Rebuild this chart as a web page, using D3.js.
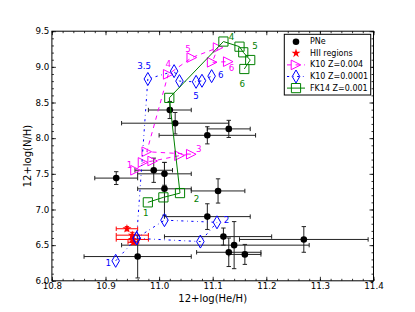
<!DOCTYPE html>
<html>
<head>
<meta charset="utf-8">
<script src="https://cdn.jsdelivr.net/npm/d3@7"></script>
<style>
  body { margin: 0; background: #fff; }
  svg { display: block; font-family: "DejaVu Sans", sans-serif; }
</style>
</head>
<body>
<div id="chart"></div>
<script>
// PNe (black dots, error bars)
const pneX   = [11.02, 11.03, 11.13, 11.09, 10.92, 10.99, 11.01, 11.01, 11.11, 11.09, 11.12, 11.14, 11.27, 11.13, 11.16, 10.96];
const pneY   = [8.395, 8.21, 8.13, 8.04, 7.44, 7.55, 7.50, 7.29, 7.26, 6.90, 6.62, 6.50, 6.58, 6.40, 6.37, 6.34];
const pneXlo = [0.04, 0.10, 0.04, 0.09, 0.04, 0.035, 0.05, 0.05, 0.05, 0.08, 0.11, 0.21, 0.12, 0.06, 0.03, 0.10];
const pneXhi = [0.04, 0.10, 0.04, 0.09, 0.04, 0.035, 0.05, 0.05, 0.05, 0.08, 0.09, 0.14, 0.12, 0.06, 0.03, 0.10];
const pneYe  = [0.12, 0.15, 0.12, 0.12, 0.09, 0.17, 0.16, 0.37, 0.17, 0.18, 0.12, 0.33, 0.18, 0.20, 0.14, 0.30];

// HII regions (red stars)
const hiiX  = [10.94, 10.95, 10.95, 10.952];
const hiiY  = [6.73, 6.64, 6.58, 6.54];
const hiiXe = [0.02, 0.03, 0.03, 0.01];
const hiiYe = [0.03, 0.04, 0.04, 0.03];

// K10 Z=0.004 (magenta)
const k4X = [10.956, 10.970, 10.988, 11.038, 11.060, 10.977, 11.017, 11.061, 11.110, 11.099, 11.129];
const k4Y = [7.55, 7.66, 7.68, 7.755, 7.775, 7.81, 8.895, 9.13, 9.27, 9.064, 9.073];
const k4Lab  = ["1", "3", "4", "5", "6"];
const k4LabX = [10.945, 11.074, 11.017, 11.054, 11.135];
const k4LabY = [7.62, 7.85, 9.036, 9.246, 8.99];

// K10 Z=0.0001 (blue)
const k1X = [10.919, 10.958, 11.010, 11.108, 11.077, 10.958, 10.979, 11.028, 11.038, 11.069, 11.080, 11.098];
const k1Y = [6.28, 6.60, 6.85, 6.82, 6.55, 6.595, 8.83, 8.94, 8.80, 8.79, 8.805, 8.87];
const k1Lab  = ["1", "2", "3.5", "5", "6"];
const k1LabX = [10.905, 11.126, 10.972, 11.069, 11.115];
const k1LabY = [6.245, 6.853, 9.012, 8.591, 8.886];

// FK14 Z=0.001 (green)
const fkX = [10.979, 11.008, 11.039, 11.019, 11.120, 11.150, 11.157, 11.170, 11.159];
const fkY = [7.10, 7.17, 7.23, 8.565, 9.355, 9.283, 9.204, 9.096, 8.97];
const fkLab  = ["1", "2", "4", "5", "6"];
const fkLabX = [10.975, 11.070, 11.135, 11.179, 11.155];
const fkLabY = [6.955, 7.143, 9.423, 9.297, 8.755];

const xMajor = [10.8, 10.9, 11.0, 11.1, 11.2, 11.3, 11.4];
const yMajor = [6.0, 6.5, 7.0, 7.5, 8.0, 8.5, 9.0, 9.5];

const width = 415, height = 312;
const pL = 51.9, pR = 373.5, pT = 31.2, pB = 280.8;

const svg = d3.select("#chart").append("svg")
  .attr("width", width)
  .attr("height", height);

const x = d3.scaleLinear().domain([10.8, 11.4]).range([pL, pR]);
const y = d3.scaleLinear().domain([6.0, 9.5]).range([pB, pT]);

const xMinor = d3.range(0, 31).map(i => 10.8 + i * 0.02);
const yMinor = d3.range(0, 36).map(i => 6.0 + i * 0.1);

// axes, ticks pointing inwards on all four sides
function drawAxis(axis, tx, ty, labels) {
  const g = svg.append("g").attr("transform", `translate(${tx},${ty})`).call(axis);
  g.select(".domain").remove();
  g.selectAll("line").attr("stroke", "#000").attr("stroke-width", 0.8);
  g.selectAll("text").attr("font-size", 8.7).attr("fill", "#000")
    .attr("font-family", "DejaVu Sans");
  if (!labels) g.selectAll("text").remove();
  return g;
}
const fmt = d3.format(".1f");
drawAxis(d3.axisBottom(x).tickValues(xMajor).tickSize(-4).tickPadding(2.5).tickFormat(fmt), 0, pB, true);
drawAxis(d3.axisBottom(x).tickValues(xMinor).tickSize(-2), 0, pB, false);
drawAxis(d3.axisTop(x).tickValues(xMajor).tickSize(-4), 0, pT, false);
drawAxis(d3.axisTop(x).tickValues(xMinor).tickSize(-2), 0, pT, false);
drawAxis(d3.axisLeft(y).tickValues(yMajor).tickSize(-4).tickPadding(2.5).tickFormat(fmt), pL, 0, true);
drawAxis(d3.axisLeft(y).tickValues(yMinor).tickSize(-2), pL, 0, false);
drawAxis(d3.axisRight(y).tickValues(yMajor).tickSize(-4), pR, 0, false);
drawAxis(d3.axisRight(y).tickValues(yMinor).tickSize(-2), pR, 0, false);

svg.append("rect")
  .attr("x", pL).attr("y", pT)
  .attr("width", pR - pL).attr("height", pB - pT)
  .attr("fill", "none").attr("stroke", "#000").attr("stroke-width", 1);

svg.append("text")
  .attr("x", (pL + pR) / 2).attr("y", 302)
  .attr("text-anchor", "middle").attr("font-size", 10)
  .text("12+log(He/H)");
svg.append("text")
  .attr("transform", `translate(30.5,${(pT + pB) / 2}) rotate(-90)`)
  .attr("text-anchor", "middle").attr("font-size", 10)
  .text("12+log(N/H)");

// marker shapes
const shapes = {
  circle: r => `M${r},0A${r},${r} 0 1,1 ${-r},0A${r},${r} 0 1,1 ${r},0Z`,
  tri: r => `M${r},0L${-r},${-r}L${-r},${r}Z`,
  diamond: r => `M0,${-r}L${r * 0.58},0L0,${r}L${-r * 0.58},0Z`,
  square: r => `M${-r},${-r}H${r}V${r}H${-r}Z`,
  star: r => d3.symbol(d3.symbolStar, r * r * 3.2)()
};

// error bars
function errorBars(xs, ys, xlo, xhi, ye, color) {
  const g = svg.append("g").attr("stroke", color).attr("stroke-width", 1).attr("fill", "none");
  const cap = 2.2;
  xs.forEach((xv, i) => {
    const x0 = x(xv - xlo[i]), x1 = x(xv + xhi[i]), yc = y(ys[i]);
    const y0 = y(ys[i] - ye[i]), y1 = y(ys[i] + ye[i]), xc = x(xv);
    g.append("path").attr("d",
      `M${x0},${yc}H${x1}M${x0},${yc - cap}V${yc + cap}M${x1},${yc - cap}V${yc + cap}` +
      `M${xc},${y0}V${y1}M${xc - cap},${y0}H${xc + cap}M${xc - cap},${y1}H${xc + cap}`);
  });
}

errorBars(pneX, pneY, pneXlo, pneXhi, pneYe, "#222");
svg.append("g").selectAll("path")
  .data(pneX.map((d, i) => [d, pneY[i]]))
  .join("path")
  .attr("transform", d => `translate(${x(d[0])},${y(d[1])})`)
  .attr("d", shapes.circle(3.3))
  .attr("fill", "#000");

errorBars(hiiX, hiiY, hiiXe, hiiXe, hiiYe, "#ff0000");
svg.append("g").selectAll("path")
  .data(hiiX.map((d, i) => [d, hiiY[i]]))
  .join("path")
  .attr("transform", d => `translate(${x(d[0])},${y(d[1])})`)
  .attr("d", shapes.star(2.8))
  .attr("fill", "#ff0000");

// model tracks
function track(xs, ys, color, dash, shape, size, labs, labX, labY) {
  const pts = xs.map((d, i) => [d, ys[i]]);
  const line = d3.line().x(d => x(d[0])).y(d => y(d[1]));
  svg.append("path").datum(pts)
    .attr("d", line)
    .attr("fill", "none").attr("stroke", color).attr("stroke-width", 1)
    .attr("stroke-dasharray", dash);
  svg.append("g").selectAll("path")
    .data(pts).join("path")
    .attr("transform", d => `translate(${x(d[0])},${y(d[1])})`)
    .attr("d", shapes[shape](size))
    .attr("fill", "none").attr("stroke", color).attr("stroke-width", 1);
  svg.append("g").selectAll("text")
    .data(labs).join("text")
    .attr("x", (d, i) => x(labX[i]))
    .attr("y", (d, i) => y(labY[i]))
    .attr("text-anchor", "middle")
    .attr("dominant-baseline", "central")
    .attr("font-size", 8.7)
    .attr("fill", color)
    .text(d => d);
}

track(k4X, k4Y, "#ff00ff", "4.3,4.3", "tri", 4.8, k4Lab, k4LabX, k4LabY);
track(k1X, k1Y, "#0000ff", "2.2,3.6,0.7,3.6", "diamond", 6.5, k1Lab, k1LabX, k1LabY);
track(fkX, fkY, "#008000", null, "square", 4.6, fkLab, fkLabX, fkLabY);

// legend
const legendItems = [
  { name: "PNe", color: "#000", shape: "circle", size: 3.3, fill: "#000", line: false },
  { name: "HII regions", color: "#ff0000", shape: "star", size: 2.8, fill: "#ff0000", line: false },
  { name: "K10 Z=0.004", color: "#ff00ff", shape: "tri", size: 4.8, fill: "none", line: true, dash: "4.3,4.3" },
  { name: "K10 Z=0.0001", color: "#0000ff", shape: "diamond", size: 6.5, fill: "none", line: true, dash: "2.2,3.6,0.7,3.6" },
  { name: "FK14 Z=0.001", color: "#008000", shape: "square", size: 4.6, fill: "none", line: true, dash: null }
];
const lg = svg.append("g");
lg.append("rect")
  .attr("x", 284.3).attr("y", 34.3).attr("width", 86.4).attr("height", 60.7)
  .attr("fill", "#fff").attr("stroke", "#000").attr("stroke-width", 1);
legendItems.forEach((d, i) => {
  const ly = 41.7 + i * 11.6;
  if (d.line) {
    lg.append("line").attr("x1", 287).attr("x2", 305).attr("y1", ly).attr("y2", ly)
      .attr("stroke", d.color).attr("stroke-width", 1).attr("stroke-dasharray", d.dash);
  }
  lg.append("path")
    .attr("transform", `translate(296,${ly})`)
    .attr("d", shapes[d.shape](d.size))
    .attr("fill", d.fill)
    .attr("stroke", d.fill === "none" ? d.color : null)
    .attr("stroke-width", 1);
  lg.append("text")
    .attr("x", 310).attr("y", ly)
    .attr("dominant-baseline", "central")
    .attr("font-size", 8)
    .text(d.name);
});
</script>
</body>
</html>
